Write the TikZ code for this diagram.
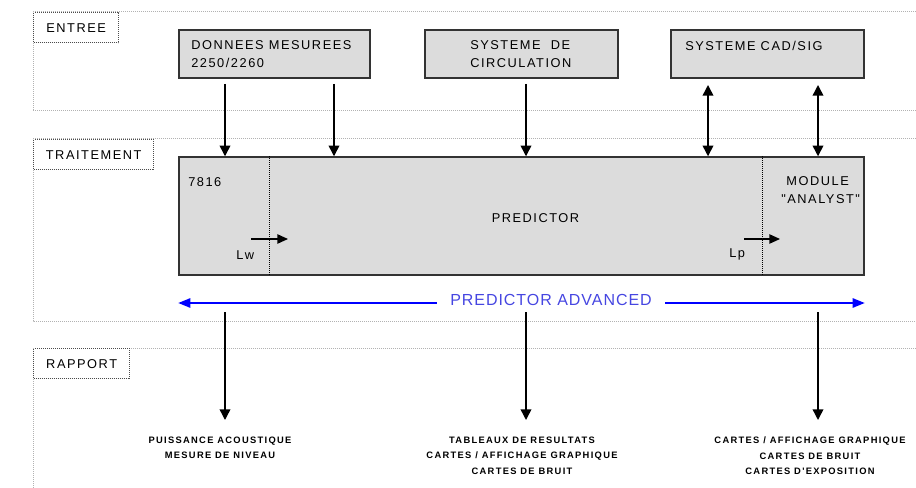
\documentclass[tikz,border=0pt]{standalone}
\usepackage{fontspec}
\setmainfont{Liberation Sans}
\newfontfamily\diafont[LetterSpace=12,Ligatures=TeXOff]{Liberation Sans}
\newfontfamily\advfont[LetterSpace=6]{Liberation Sans}
\newfontfamily\repfont[LetterSpace=14,Ligatures=TeXOff]{Liberation Sans}
\usetikzlibrary{arrows.meta}
\definecolor{unitfill}{RGB}{220,220,220}
\definecolor{advtext}{RGB}{70,70,225}
\definecolor{advline}{RGB}{0,0,255}
\begin{document}
\begin{tikzpicture}[x=0.75pt,y=-0.75pt,
    panel/.style={gray!60,line width=0.75pt,dash pattern=on 0.75pt off 0.75pt},
    tag/.style={draw=black!70,fill=white,line width=1pt,dash pattern=on 0.75pt off 0.75pt,
        minimum height=22.5pt,inner sep=0pt,anchor=north west,font=\diafont\fontsize{9.6}{13.5}\selectfont},
    unit/.style={draw=black!80,fill=unitfill,line width=1.1pt,inner sep=0pt},
    txt/.style={inner sep=0pt,anchor=north west,align=left,font=\diafont\fontsize{9.6}{13.5}\selectfont},
    rep/.style={inner sep=0pt,outer ysep=12.75pt,anchor=north,align=center,font=\repfont\bfseries\fontsize{7}{11.6}\selectfont},
    flow/.style={line width=1.1pt,-{Triangle[width=8pt,length=8pt]}},
    both/.style={line width=1.1pt,{Triangle[width=8pt,length=8pt]}-{Triangle[width=8pt,length=8pt]}},
    level/.style={line width=1.1pt,-{Triangle[width=7pt,length=8pt]}},
    sep/.style={line width=0.75pt,dash pattern=on 0.75pt off 0.75pt}]
\useasboundingbox (0,0) rectangle (916,488);
\draw[panel] (916,12) -- (33,12) -- (33,111) -- (916,111);
\draw[panel] (916,139) -- (33,139) -- (33,321) -- (916,321);
\draw[panel] (916,348) -- (33,348) -- (33,488);
\node[tag,minimum width=63.75pt] (entree) at (33,12) {ENTREE};
\node[tag,minimum width=90pt] (traitement) at (33,139) {TRAITEMENT};
\node[tag,minimum width=72pt] (rapport) at (33,348) {RAPPORT};
\node[unit,minimum width=143.25pt,minimum height=36pt] (donnees) at (274.5,54) {};
\node[unit,minimum width=144.75pt,minimum height=36pt] (circ) at (521.5,54) {};
\node[unit,minimum width=144.75pt,minimum height=36pt] (cad) at (767.5,54) {};
\node[unit,minimum width=513.75pt,minimum height=88.5pt] (predictor) at (521.5,216) {};
\node[txt] (donnees-t) at (191,40.5) {DONNEES MESUREES\\2250/2260};
\node[txt] (circ-t) at (470,40.5) {SYSTEME~ DE\\CIRCULATION};
\node[txt] (cad-t) at (685,40.5) {SYSTEME CAD/SIG};
\draw[sep] ([xshift=68.25pt]predictor.north west) -- ([xshift=68.25pt]predictor.south west);
\draw[sep] ([xshift=438pt]predictor.north west) -- ([xshift=438pt]predictor.south west);
\node[txt] (norme) at (188,177) {7816};
\node[txt,anchor=north] (pred-t) at (535.5,213) {PREDICTOR};
\node[txt] (analyst) at (781,176) {\ MODULE\\"ANALYST"};
\node[txt] (lw) at (236,250) {Lw};
\node[txt] (lp) at (729,248) {Lp};
\coordinate (lw-a) at (251,239);
\coordinate (lp-a) at (744,239);
\draw[level] (lw-a) -- ++(37,0);
\draw[level] (lp-a) -- ++(36,0);
\coordinate (in1) at (225,84);
\coordinate (in2) at (334,84);
\coordinate (in3) at (526,84);
\coordinate (io1) at (708,85);
\coordinate (io2) at (818,85);
\draw[flow] (in1) -- (in1 |- predictor.north);
\draw[flow] (in2) -- (in2 |- predictor.north);
\draw[flow] (in3) -- (in3 |- predictor.north);
\draw[both] (io1) -- (io1 |- predictor.north);
\draw[both] (io2) -- (io2 |- predictor.north);
\node[text=advtext,inner xsep=10pt,inner ysep=0pt,text height=8.6pt,text depth=4.5pt,
    font=\advfont\fontsize{12}{14}\selectfont] (adv) at (551,303) {PREDICTOR ADVANCED};
\draw[advline,line width=1.1pt,-{Triangle[width=7pt,length=9pt]}] (adv.west) -- (adv.west -| predictor.west);
\draw[advline,line width=1.1pt,-{Triangle[width=7pt,length=9pt]}] (adv.east) -- (adv.east -| predictor.east);
\node[rep] (rep1) at (220,420) {PUISSANCE ACOUSTIQUE\\MESURE DE NIVEAU};
\node[rep] (rep2) at (522,420) {TABLEAUX DE RESULTATS\\CARTES / AFFICHAGE GRAPHIQUE\\CARTES DE BRUIT};
\node[rep] (rep3) at (810,420) {CARTES / AFFICHAGE GRAPHIQUE\\CARTES DE BRUIT\\CARTES D'EXPOSITION};
\coordinate (out1) at (225,312);
\coordinate (out2) at (526,312);
\coordinate (out3) at (818,312);
\draw[flow] (out1) -- (out1 |- rep1.north);
\draw[flow] (out2) -- (out2 |- rep2.north);
\draw[flow] (out3) -- (out3 |- rep3.north);
\end{tikzpicture}
\end{document}
